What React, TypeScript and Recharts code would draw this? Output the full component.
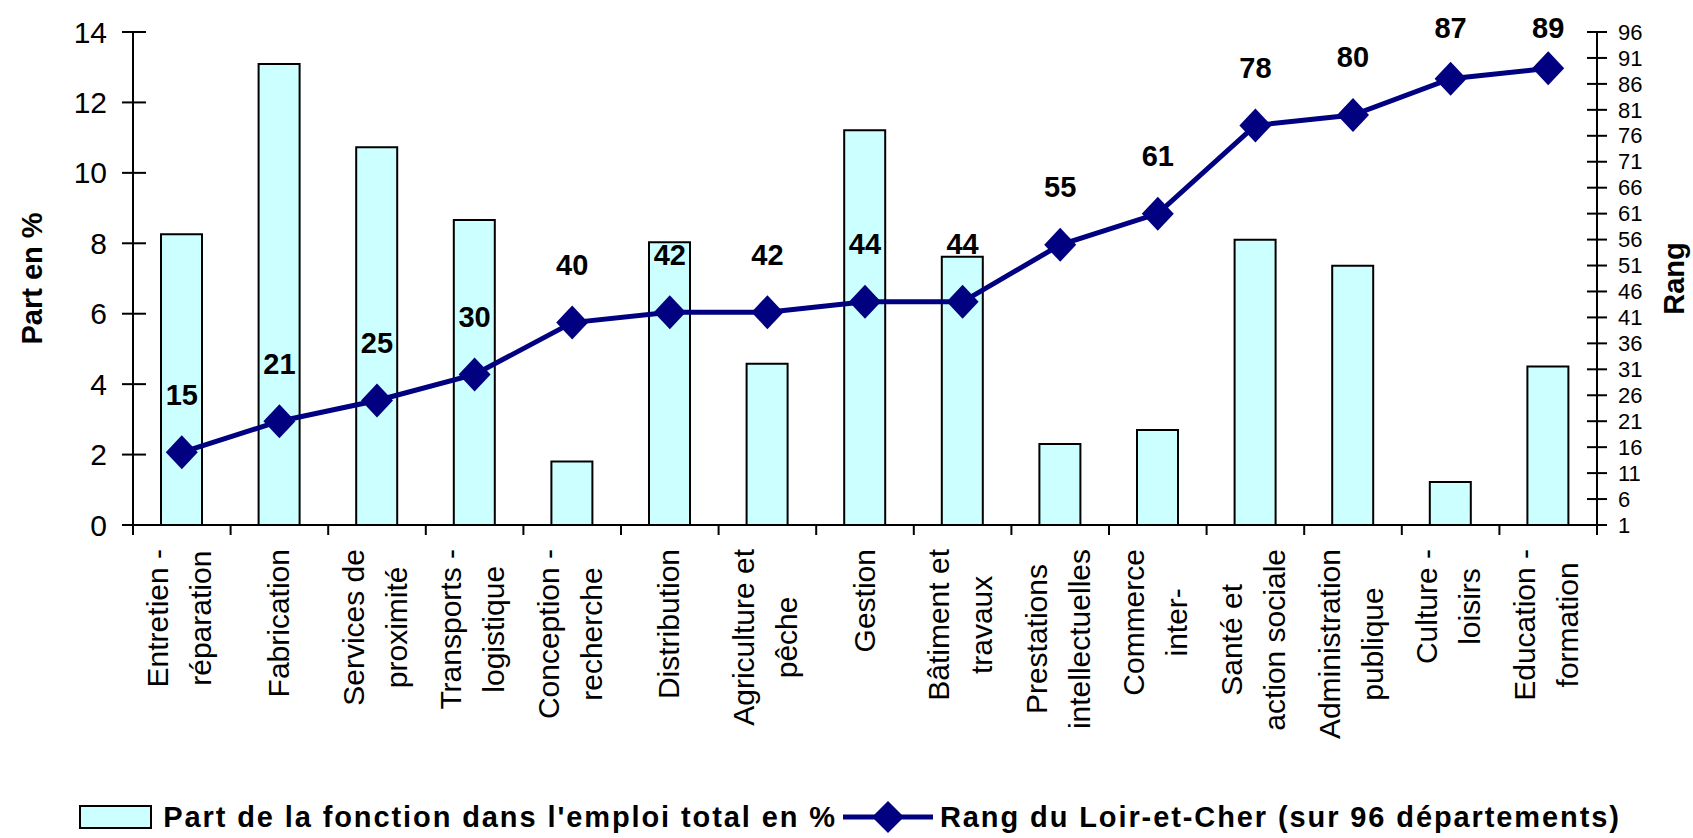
import React from 'react';
import { ComposedChart, Bar, Line, XAxis, YAxis, LabelList, Legend } from 'recharts';

// ---------- data ----------
const categoryLines: string[][] = [
  ['Entretien -', 'réparation'],
  ['Fabrication'],
  ['Services de', 'proximité'],
  ['Transports -', 'logistique'],
  ['Conception -', 'recherche'],
  ['Distribution'],
  ['Agriculture et', 'pêche'],
  ['Gestion'],
  ['Bâtiment et', 'travaux'],
  ['Prestations', 'intellectuelles'],
  ['Commerce', 'inter-'],
  ['Santé et', 'action sociale'],
  ['Administration', 'publique'],
  ['Culture -', 'loisirs'],
  ['Education -', 'formation'],
];
const categories = categoryLines.map((l) => l.join(' '));
const partEmploi = [8.26, 13.09, 10.73, 8.66, 1.8, 8.03, 4.58, 11.21, 7.62, 2.3, 2.7, 8.1, 7.36, 1.22, 4.5];
const rangDepartement = [15, 21, 25, 30, 40, 42, 42, 44, 44, 55, 61, 78, 80, 87, 89];
const leftTicks = [0, 2, 4, 6, 8, 10, 12, 14];
const rightTicks = [1, 6, 11, 16, 21, 26, 31, 36, 41, 46, 51, 56, 61, 66, 71, 76, 81, 86, 91, 96];
const seriesBarName = "Part de la fonction dans l'emploi total en %";
const seriesLineName = 'Rang du Loir-et-Cher (sur 96 départements)';
const leftTitle = 'Part en %';
const rightTitle = 'Rang';

const data = categories.map((name, i) => ({ name, part: partEmploi[i], rang: rangDepartement[i] }));

// ---------- styling ----------
const FONT = "'Liberation Sans', Arial, Helvetica, sans-serif";
const NAVY = '#000080';
const BAR_FILL = '#CCFFFF';
const W = 1693;
const H = 838;
const PLOT_W = 1464;

let measureCtx: CanvasRenderingContext2D | null = null;
function measure(text: string, font: string): number {
  if (!measureCtx) {
    const c = document.createElement('canvas');
    measureCtx = c.getContext('2d');
  }
  if (!measureCtx) return text.length * 15;
  measureCtx.font = font;
  return measureCtx.measureText(text).width;
}

const XTick = (props: any) => {
  const { x, y, payload } = props;
  let idx = categories.indexOf(payload?.value);
  if (idx < 0) idx = props.index ?? 0;
  const half = payload && typeof payload.offset === 'number' && payload.offset > 0 ? payload.offset : PLOT_W / categories.length / 2;
  const lines = categoryLines[idx] ?? [String(payload?.value)];
  const fontSize = 30;
  const maxLen = Math.max(...lines.map((l) => measure(l, `${fontSize}px ${FONT}`)));
  const cy = y + 24 + maxLen / 2;
  const offs = lines.length === 1 ? [0] : [-23, 20];
  return (
    <g>
      <line x1={x - half} x2={x - half} y1={y} y2={y + 10} stroke="#000" strokeWidth={2} />
      {idx === categories.length - 1 && (
        <line x1={x + half} x2={x + half} y1={y} y2={y + 10} stroke="#000" strokeWidth={2} />
      )}
      {lines.map((l, i) => {
        const lx = x + offs[i];
        return (
          <text
            key={i}
            x={lx}
            y={cy}
            transform={`rotate(-90, ${lx}, ${cy})`}
            textAnchor="middle"
            dy="0.32em"
            fontSize={fontSize}
            fontFamily={FONT}
            fill="#000"
          >
            {l}
          </text>
        );
      })}
    </g>
  );
};

const LeftTick = (props: any) => {
  const { x, y, payload } = props;
  return (
    <g>
      <line x1={x - 11} x2={x + 13} y1={y} y2={y} stroke="#000" strokeWidth={2} />
      <text x={x - 26} y={y} dy="0.35em" textAnchor="end" fontSize={30} fontFamily={FONT} fill="#000">
        {payload.value}
      </text>
    </g>
  );
};

const RightTick = (props: any) => {
  const { x, y, payload } = props;
  return (
    <g>
      <line x1={x - 10} x2={x + 10} y1={y} y2={y} stroke="#000" strokeWidth={2} />
      <text x={x + 21} y={y} dy="0.35em" textAnchor="start" fontSize={22} fontFamily={FONT} fill="#000">
        {payload.value}
      </text>
    </g>
  );
};

const Diamond = (props: any) => {
  const { cx, cy, index } = props;
  if (cx == null || cy == null) return <g key={index} />;
  const hw = 16;
  const hh = 17;
  return (
    <polygon
      key={`d-${index}`}
      points={`${cx},${cy - hh} ${cx + hw},${cy} ${cx},${cy + hh} ${cx - hw},${cy}`}
      fill={NAVY}
    />
  );
};

const RankLabel = (props: any) => {
  const { x, y, value } = props;
  if (x == null || y == null) return null;
  const ly = Math.max(y - 58, 28);
  return (
    <text x={x} y={ly} dy="0.36em" textAnchor="middle" fontSize={29} fontWeight="bold" fontFamily={FONT} fill="#000">
      {value}
    </text>
  );
};

const LeftTitle = (props: any) => {
  const vb = props.viewBox || {};
  const cx = (vb.x ?? 13) + 19;
  const cy = (vb.y ?? 32) + (vb.height ?? 493) / 2;
  return (
    <text x={cx} y={cy} transform={`rotate(-90, ${cx}, ${cy})`} textAnchor="middle" dy="0.36em" fontSize={29} fontWeight="bold" fontFamily={FONT} fill="#000">
      {leftTitle}
    </text>
  );
};

const RightTitle = (props: any) => {
  const vb = props.viewBox || {};
  const cx = (vb.x ?? 1597) + 77;
  const cy = (vb.y ?? 32) + (vb.height ?? 493) / 2;
  return (
    <text x={cx} y={cy} transform={`rotate(-90, ${cx}, ${cy})`} textAnchor="middle" dy="0.36em" fontSize={29} fontWeight="bold" fontFamily={FONT} fill="#000">
      {rightTitle}
    </text>
  );
};

const LegendContent = () => (
  <div
    style={{
      height: 40,
      display: 'flex',
      alignItems: 'center',
      justifyContent: 'center',
      fontFamily: FONT,
      fontWeight: 'bold',
      fontSize: 29,
      letterSpacing: 1.9,
      color: '#000',
      whiteSpace: 'nowrap',
    }}
  >
    <svg width={73} height={24} style={{ display: 'block' }}>
      <rect x={1} y={1} width={71} height={22} fill={BAR_FILL} stroke="#000" strokeWidth={2} />
    </svg>
    <span style={{ marginLeft: 11 }}>{seriesBarName}</span>
    <svg width={90} height={36} style={{ display: 'block', marginLeft: 6 }}>
      <line x1={0} x2={90} y1={18} y2={18} stroke={NAVY} strokeWidth={5} />
      <polygon points="45,2 61,18 45,34 29,18" fill={NAVY} />
    </svg>
    <span style={{ marginLeft: 7 }}>{seriesLineName}</span>
  </div>
);

export default function App() {
  return (
    <div style={{ position: 'absolute', left: 0, top: 0, width: W, height: H, background: '#fff' }}>
      <ComposedChart width={W} height={H} data={data} margin={{ top: 32, left: 13, right: 6, bottom: 1 }}>
        <XAxis
          dataKey="name"
          interval={0}
          tickSize={0}
          tickMargin={0}
          tickLine={false}
          axisLine={{ stroke: '#000', strokeWidth: 2 }}
          height={272}
          tick={(p: any) => <XTick {...p} />}
        />
        <YAxis
          yAxisId="left"
          orientation="left"
          domain={[0, 14]}
          ticks={leftTicks}
          interval={0}
          width={120}
          tickSize={0}
          tickMargin={0}
          tickLine={false}
          axisLine={{ stroke: '#000', strokeWidth: 2 }}
          tick={(p: any) => <LeftTick {...p} />}
          label={(p: any) => <LeftTitle {...p} />}
        />
        <YAxis
          yAxisId="right"
          orientation="right"
          domain={[1, 96]}
          ticks={rightTicks}
          interval={0}
          width={90}
          tickSize={0}
          tickMargin={0}
          tickLine={false}
          axisLine={{ stroke: '#000', strokeWidth: 2 }}
          tick={(p: any) => <RightTick {...p} />}
          label={(p: any) => <RightTitle {...p} />}
        />
        <Legend verticalAlign="bottom" height={40} content={() => <LegendContent />} />
        <Bar
          yAxisId="left"
          dataKey="part"
          name={seriesBarName}
          fill={BAR_FILL}
          stroke="#000"
          strokeWidth={2}
          barSize={41}
          isAnimationActive={false}
        />
        <Line
          yAxisId="right"
          dataKey="rang"
          name={seriesLineName}
          stroke={NAVY}
          strokeWidth={5}
          dot={(p: any) => <Diamond key={`dot-${p.index}`} {...p} />}
          activeDot={false}
          isAnimationActive={false}
        >
          <LabelList dataKey="rang" content={(p: any) => <RankLabel {...p} />} />
        </Line>
      </ComposedChart>
    </div>
  );
}
